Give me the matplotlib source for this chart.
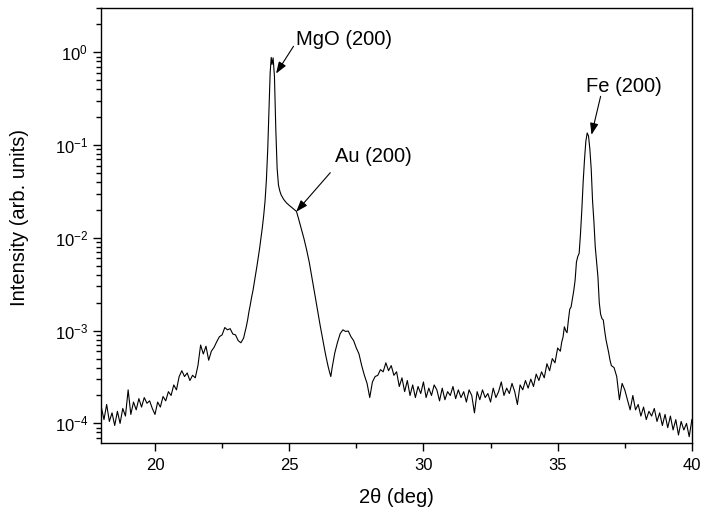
import numpy as np
import matplotlib
matplotlib.use('Agg')
import matplotlib.pyplot as plt
from matplotlib.ticker import MultipleLocator, LogLocator

plt.rcParams['font.family'] = ['Liberation Sans', 'DejaVu Sans']
plt.rcParams['mathtext.fontset'] = 'custom'
plt.rcParams['mathtext.rm'] = 'Liberation Sans'
plt.rcParams['mathtext.it'] = 'Liberation Sans:italic'

# XRD scan, intensity values (units of 1e-4)
# low-angle background
theta_low = [18.0, 18.1, 18.2, 18.3, 18.4, 18.5, 18.6, 18.7, 18.8, 18.9,
             19.0, 19.1, 19.2, 19.3, 19.4, 19.5, 19.6, 19.7, 19.8, 19.9,
             20.0, 20.1, 20.2, 20.3, 20.4, 20.5, 20.6, 20.7, 20.8, 20.9,
             21.0, 21.1, 21.2, 21.3, 21.4, 21.5, 21.6, 21.7, 21.8, 21.9,
             22.0, 22.1, 22.2, 22.3, 22.4, 22.5, 22.6, 22.7, 22.8, 22.9,
             23.0, 23.1, 23.2, 23.3, 23.4]
int_low = [1.5, 1.1, 1.6, 1.05, 1.3, 0.95, 1.35, 1.0, 1.45, 1.2,
           2.3, 1.25, 1.7, 1.4, 1.85, 1.5, 1.9, 1.65, 1.75, 1.45,
           1.25, 1.7, 1.5, 1.95, 1.75, 2.2, 2.0, 2.6, 2.3, 3.2,
           3.7, 3.2, 3.5, 2.9, 3.3, 3.1, 4.2, 7.0, 5.6, 6.8,
           4.8, 6.0, 6.6, 7.6, 8.6, 9.0, 10.8, 10.2, 10.5, 9.2,
           9.0, 7.8, 7.4, 8.3, 11.0]

# MgO (200) substrate peak with Au (200) shoulder
theta_mgo = [23.45, 23.5, 23.55, 23.6, 23.65, 23.7, 23.75, 23.8, 23.85, 23.9,
             23.95, 24.0, 24.05, 24.1, 24.15, 24.2, 24.25, 24.29, 24.33, 24.36,
             24.4, 24.45, 24.5, 24.55, 24.6, 24.65, 24.7, 24.8, 24.9, 25.0,
             25.1, 25.2, 25.27, 25.35, 25.45, 25.55, 25.65, 25.75, 25.85, 25.95,
             26.05, 26.15, 26.25, 26.35, 26.45, 26.5, 26.55]
int_mgo = [13, 16, 19, 23, 27, 33, 40, 50, 62, 78,
           100, 130, 175, 250, 420, 900, 2500, 6000, 8800, 7400,
           8700, 5500, 1500, 560, 370, 320, 290, 258, 238, 224,
           212, 201, 193, 160, 125, 98, 74, 54, 37, 25,
           17, 11.5, 8.0, 5.6, 4.1, 3.6, 3.2]

# middle range (Laue fringe + background)
theta_mid = [26.6, 26.7, 26.8, 26.9, 27.0, 27.1, 27.2, 27.3, 27.4, 27.5,
             27.6, 27.7, 27.8, 27.9, 28.0, 28.1, 28.2, 28.3, 28.4, 28.5,
             28.6, 28.7, 28.8, 28.9, 29.0, 29.1, 29.2, 29.3, 29.4, 29.5,
             29.6, 29.7, 29.8, 29.9, 30.0, 30.1, 30.2, 30.3, 30.4, 30.5,
             30.6, 30.7, 30.8, 30.9, 31.0, 31.1, 31.2, 31.3, 31.4, 31.5,
             31.6, 31.7, 31.8, 31.9, 32.0, 32.1, 32.2, 32.3, 32.4, 32.5,
             32.6, 32.7, 32.8, 32.9, 33.0, 33.1, 33.2, 33.3, 33.4, 33.5,
             33.6, 33.7, 33.8, 33.9, 34.0, 34.1, 34.2, 34.3, 34.4, 34.5,
             34.6, 34.7, 34.8, 34.9, 35.0, 35.1, 35.15]
int_mid = [4.0, 5.8, 7.5, 9.3, 10.2, 9.8, 9.9, 8.6, 7.8, 6.5,
           5.6, 4.2, 3.3, 2.7, 1.9, 2.8, 3.2, 3.3, 3.8, 3.6,
           4.5, 3.7, 4.2, 3.3, 3.6, 2.5, 3.1, 2.2, 2.9, 2.0,
           2.6, 1.9, 2.5, 2.1, 2.8, 1.9, 2.4, 2.0, 2.6, 2.3,
           1.75, 2.4, 1.8, 2.2, 2.0, 2.5, 1.85, 2.3, 1.9, 2.2,
           1.7, 2.3, 2.0, 1.3, 2.2, 1.8, 2.3, 1.9, 2.1, 1.7,
           2.4, 1.9, 2.2, 2.8, 2.0, 2.4, 2.1, 2.7, 2.2, 1.6,
           2.6, 2.3, 2.9, 2.4, 3.0, 2.5, 3.4, 2.9, 3.6, 3.1,
           4.4, 3.7, 5.0, 4.5, 6.5, 6.0, 7.5]

# Fe (200) film peak
theta_fe = [35.2, 35.25, 35.3, 35.35, 35.4, 35.45, 35.5, 35.55, 35.6, 35.65,
            35.7, 35.75, 35.8, 35.85, 35.9, 35.95, 36.0, 36.05, 36.1, 36.15,
            36.2, 36.25, 36.3, 36.35, 36.4, 36.45, 36.5, 36.55, 36.6, 36.65,
            36.7, 36.75, 36.8, 36.85, 36.9, 36.95, 37.0]
int_fe = [8.5, 11, 10, 9.5, 13, 17, 18, 22, 27, 35,
          55, 63, 68, 110, 200, 400, 700, 1100, 1350, 1250,
          900, 550, 250, 150, 80, 55, 38, 20, 15, 13.5,
          13, 10, 8, 6.8, 5.8, 4.8, 4.2]

# high-angle background
theta_high = [37.1, 37.2, 37.3, 37.4, 37.5, 37.6, 37.7, 37.8, 37.9, 38.0,
              38.1, 38.2, 38.3, 38.4, 38.5, 38.6, 38.7, 38.8, 38.9, 39.0,
              39.1, 39.2, 39.3, 39.4, 39.5, 39.6, 39.7, 39.8, 39.9, 40.0]
int_high = [4.0, 3.2, 1.8, 2.7, 2.3, 1.8, 1.4, 2.0, 1.4, 1.6,
            1.2, 1.5, 1.1, 1.35, 1.2, 1.45, 1.05, 1.3, 0.95, 1.25,
            0.9, 1.2, 0.85, 1.1, 0.75, 1.05, 0.85, 1.0, 0.72, 1.1]

two_theta = np.concatenate([theta_low, theta_mgo, theta_mid, theta_fe, theta_high])
intensity = np.concatenate([int_low, int_mgo, int_mid, int_fe, int_high]) * 1e-4

fig = plt.figure(figsize=(7.01, 5.11), dpi=100)
ax = fig.add_axes([0.1445, 0.1337, 0.8425, 0.8506])

ax.plot(two_theta, intensity, color='black', lw=0.8)

ax.set_yscale('log')
ax.set_xlim(18, 40)
ax.set_ylim(6.2e-5, 3.0)

ax.xaxis.set_major_locator(MultipleLocator(5))
ax.xaxis.set_minor_locator(MultipleLocator(2.5))
ax.yaxis.set_major_locator(LogLocator(base=10, numticks=10))
ax.yaxis.set_minor_locator(LogLocator(base=10, subs=np.arange(2, 10), numticks=20))

ax.tick_params(which='both', direction='out', top=False, right=False, width=1.0)
ax.tick_params(which='major', length=5.5, labelsize=12)
ax.tick_params(axis='x', which='major', pad=5.5)
ax.tick_params(axis='y', which='major', pad=4)
ax.tick_params(which='minor', length=3.4)
for s in ax.spines.values():
    s.set_linewidth(1.0)

ax.set_xlabel('2θ (deg)', fontsize=14.5)
ax.set_ylabel('Intensity (arb. units)', fontsize=14.5)
ax.xaxis.set_label_coords(0.5, -0.104)
ax.yaxis.set_label_coords(-0.1225, 0.518)

# peak labels with arrows
arrow = dict(arrowstyle='-|>,head_length=0.7,head_width=0.25', color='black',
             lw=0.8, shrinkA=0, shrinkB=0)
ax.annotate('', xy=(24.51, 0.59), xytext=(25.16, 1.16), arrowprops=arrow)
ax.text(25.26, 1.37, 'MgO (200)', fontsize=14.5, ha='left', va='center')

ax.annotate('', xy=(25.26, 0.0191), xytext=(26.53, 0.0504), arrowprops=arrow)
ax.text(26.72, 0.075, 'Au (200)', fontsize=14.5, ha='left', va='center')

ax.annotate('', xy=(36.26, 0.129), xytext=(36.6, 0.335), arrowprops=arrow)
ax.text(36.06, 0.427, 'Fe (200)', fontsize=14.5, ha='left', va='center')

fig.savefig('out.png', dpi=100)
